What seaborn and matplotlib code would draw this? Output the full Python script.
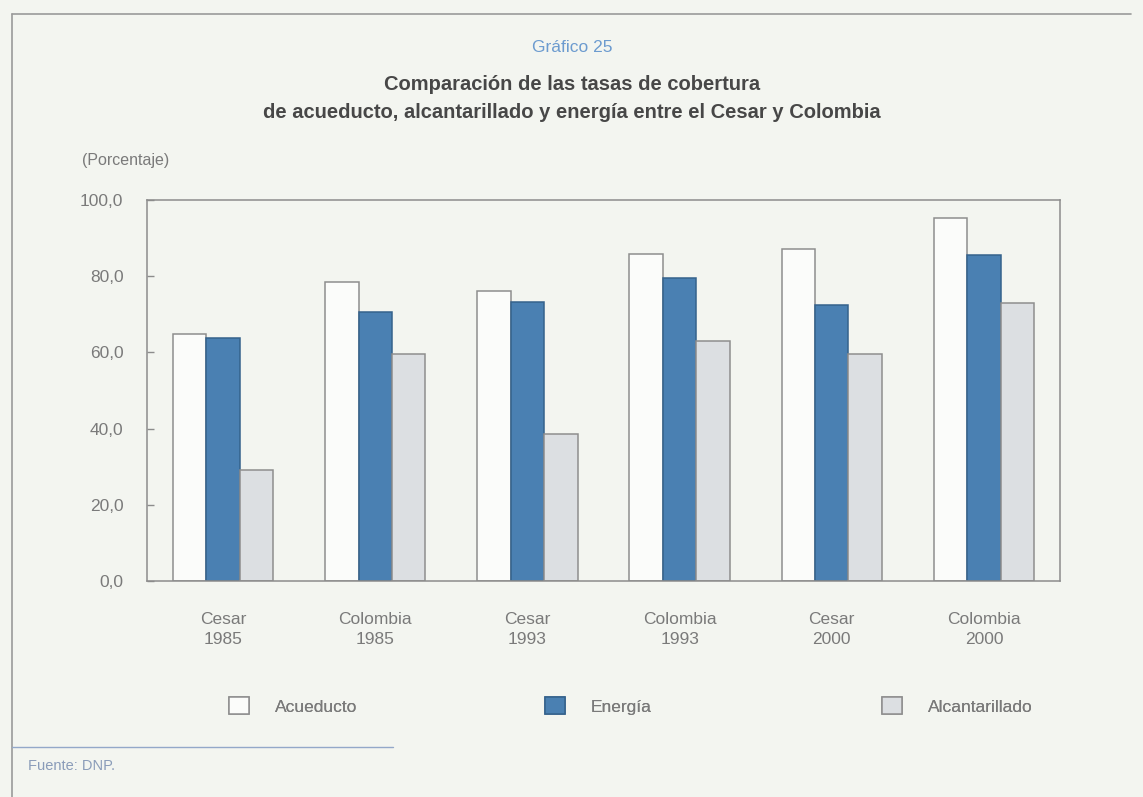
import matplotlib
matplotlib.use("Agg")
import matplotlib.pyplot as plt
import seaborn as sns
import pandas as pd

# Coverage rates (%) by territory and census year
grupos = ["Cesar\n1985", "Colombia\n1985", "Cesar\n1993",
          "Colombia\n1993", "Cesar\n2000", "Colombia\n2000"]
acueducto = [64.9, 78.6, 76.1, 85.8, 87.1, 95.4]
energia = [63.9, 70.6, 73.2, 79.5, 72.4, 85.6]
alcantarillado = [29.1, 59.6, 38.6, 63.0, 59.5, 73.0]
series = ["Acueducto", "Energía", "Alcantarillado"]
yticks = [0, 20, 40, 60, 80, 100]

df = pd.DataFrame({
    "grupo": grupos * 3,
    "serie": [s for s in series for _ in grupos],
    "valor": acueducto + energia + alcantarillado,
})

BG = "#f3f5f0"
fills = {"Acueducto": "#fbfcfa", "Energía": "#4a80b2", "Alcantarillado": "#dcdfe2"}
edges = {"Acueducto": "#8e8e8e", "Energía": "#35628c", "Alcantarillado": "#8e8e8e"}
GREY_TXT = "#7a7a7a"

sns.set_theme(style="white")
plt.rcParams["font.family"] = ["Liberation Sans", "DejaVu Sans"]

W, H = 1143, 797
fig = plt.figure(figsize=(W / 100, H / 100), dpi=100, facecolor=BG)
ax = fig.add_axes([147 / W, 1 - 581 / H, 913 / W, 381 / H])
ax.set_facecolor(BG)

sns.barplot(data=df, x="grupo", y="valor", hue="serie", hue_order=series,
            order=grupos, palette=fills, saturation=1, width=0.66, dodge=True,
            linewidth=1.1, ax=ax, legend=False)

for cont, s in zip(ax.containers, series):
    for p in cont:
        p.set_edgecolor(edges[s])
        p.set_linewidth(1.1)

ax.set_xlim(-0.5, len(grupos) - 0.5)
ax.set_ylim(0, 100)
ax.set_yticks(yticks)
ax.set_yticklabels([f"{v:.1f}".replace(".", ",") for v in yticks])
ax.set_xlabel("")
ax.set_ylabel("")

for sp in ax.spines.values():
    sp.set_visible(True)
    sp.set_color("#8c8c8c")
    sp.set_linewidth(1.1)

ax.tick_params(axis="y", direction="in", length=5, width=1, color="#8c8c8c",
               left=True, labelsize=12.5, labelcolor=GREY_TXT, pad=17)
ax.tick_params(axis="x", length=0, labelsize=12.5, labelcolor=GREY_TXT, pad=22)
for lbl in ax.get_xticklabels():
    lbl.set_linespacing(1.45)

# Titles
fig.text(572 / W, 1 - 48 / H, "Gráfico 25", ha="center", va="center",
         fontsize=12.5, color="#6c9bcf")
fig.text(572 / W, 1 - 85 / H, "Comparación de las tasas de cobertura",
         ha="center", va="center", fontsize=14.5, fontweight="bold",
         color="#474747")
fig.text(572 / W, 1 - 112 / H,
         "de acueducto, alcantarillado y energía entre el Cesar y Colombia",
         ha="center", va="center", fontsize=14.5, fontweight="bold",
         color="#474747")
fig.text(82 / W, 1 - 160 / H, "(Porcentaje)", ha="left", va="center",
         fontsize=11.5, color=GREY_TXT)

# Legend: three separate entries spread along the row
handles = [cont.patches[0] for cont in ax.containers]
legend_x = [229 / W, 545 / W, 882 / W]
for h, s, x in zip(handles, series, legend_x):
    leg = fig.legend([h], [s], loc="center left", bbox_to_anchor=(x, 1 - 706 / H),
                     frameon=False, fontsize=12.5, handlelength=1.15,
                     handleheight=1.15, handletextpad=1.5, borderpad=0,
                     borderaxespad=0, labelcolor=GREY_TXT)
    fig.add_artist(leg)

# Frame lines and source note
fig.add_artist(plt.Line2D([12 / W, 1131 / W], [1 - 14 / H, 1 - 14 / H],
                          color="#9a9a9a", lw=1.2))
fig.add_artist(plt.Line2D([12 / W, 12 / W], [1 - 14 / H, 0],
                          color="#9a9a9a", lw=1.2))
fig.add_artist(plt.Line2D([12 / W, 393 / W], [1 - 747 / H, 1 - 747 / H],
                          color="#93a8c9", lw=1.0))
fig.text(28 / W, 1 - 766 / H, "Fuente: DNP.", ha="left", va="center",
         fontsize=10.5, color="#8a9cb9")

fig.savefig("out.png", dpi=100, facecolor=BG)
